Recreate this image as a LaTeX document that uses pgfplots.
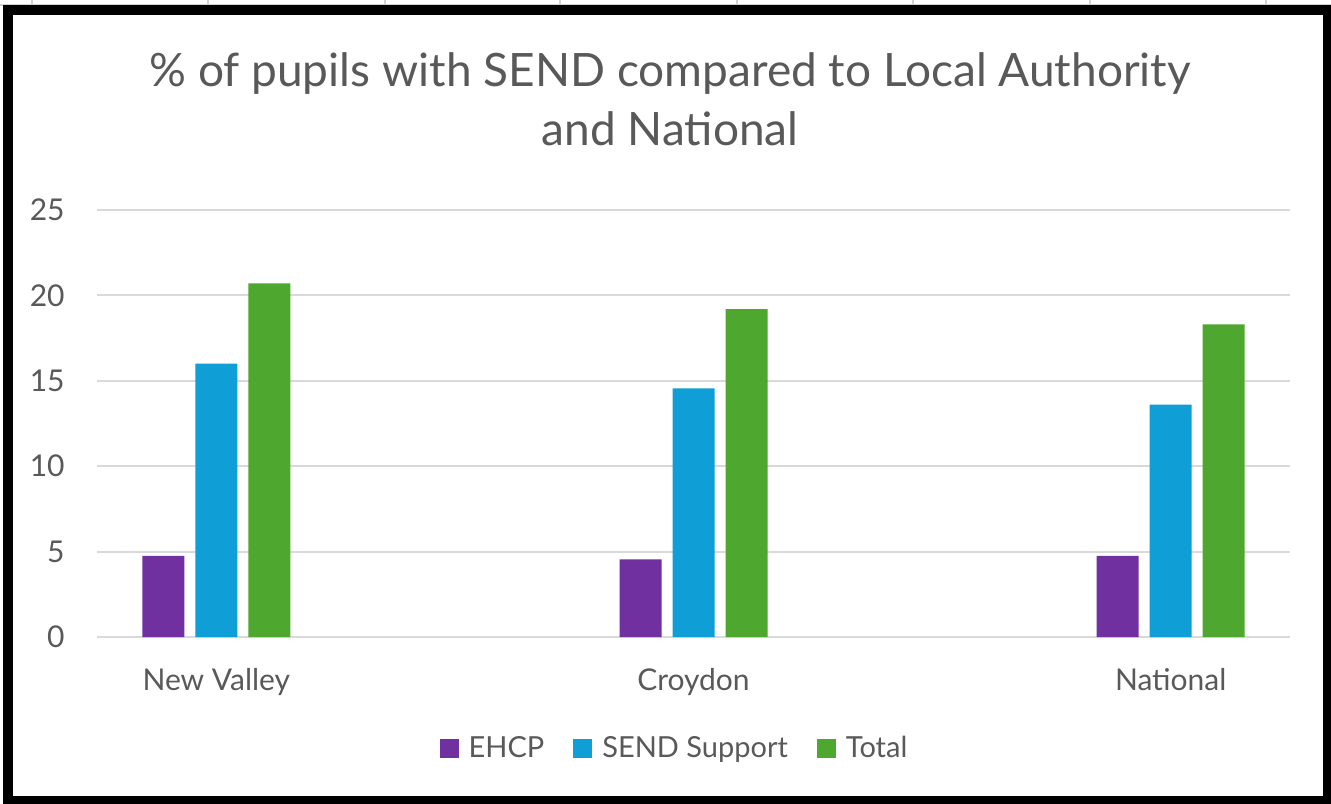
\documentclass[border=0pt]{standalone}
\usepackage{fontspec}
\setmainfont{Lato}
\usepackage{pgfplots}
\pgfplotsset{compat=1.18}
\definecolor{ehcp}{HTML}{7030A0}
\definecolor{sendsup}{HTML}{0F9ED5}
\definecolor{total}{HTML}{4EA72E}
\definecolor{txt}{HTML}{595959}
\definecolor{gridc}{HTML}{D9D9D9}
\begin{document}
\begin{tikzpicture}[x=1pt,y=1pt]
\useasboundingbox (0,0) rectangle (665.5,401.5);
\fill[white] (0,0) rectangle (665.5,401.5);
\foreach \x in {16,104,192.5,280,368.5,456.5,545,633}
  \draw[gray!35,line width=0.6pt] (\x,395) -- (\x,401.5);
\draw[gray!35,line width=0.6pt] (0,399) -- (665.5,399);
\begin{axis}[
  at={(48.5pt,83pt)}, anchor=south west, scale only axis,
  width=596.5pt, height=213.5pt,
  xmin=-0.25, xmax=2.25, ymin=0, ymax=25,
  ytick={0,5,10,15,20,25},
  xtick={0,1,2}, xticklabels={New Valley,Croydon,National},
  /pgf/number format/assume math mode=true,
  ymajorgrids, grid style={gridc, line width=1pt},
  axis line style={draw=none}, major tick style={draw=none},
  ybar=5.5pt, bar width=21pt,
  ticklabel style={font=\fontsize{15}{18}\selectfont, text=txt},
  yticklabel style={inner sep=0pt, xshift=-16pt},
  xticklabel style={anchor=base, inner sep=0pt, yshift=-22.5pt},
  legend style={draw=none, fill=none, at={(0.4853,-0.26)}, anchor=center,
    legend columns=3, font=\fontsize{14.5}{18}\selectfont, text=txt,
    /tikz/every even column/.append style={column sep=12pt},
    nodes={inner sep=2.5pt}},
  legend image code/.code={\fill[#1,draw=none] (0pt,-4.75pt) rectangle (9.5pt,4.75pt); \path (12pt,0pt);},
]
\addplot[fill=ehcp, draw=none] coordinates {(0,4.75) (1,4.55) (2,4.75)};
\addplot[fill=sendsup, draw=none] coordinates {(0,16.0) (1,14.55) (2,13.6)};
\addplot[fill=total, draw=none] coordinates {(0,20.7) (1,19.2) (2,18.3)};
\legend{EHCP, SEND Support, Total}
\end{axis}
\node[anchor=base, text=txt, font=\fontsize{23}{28}\selectfont] at (335,358) {\% of pupils with SEND compared to Local Authority};
\node[anchor=base, text=txt, font=\fontsize{23}{28}\selectfont] at (335,328.5) {and National};
\draw[black, line width=5pt] (4,1) rectangle (664,396.5);
\end{tikzpicture}
\end{document}
